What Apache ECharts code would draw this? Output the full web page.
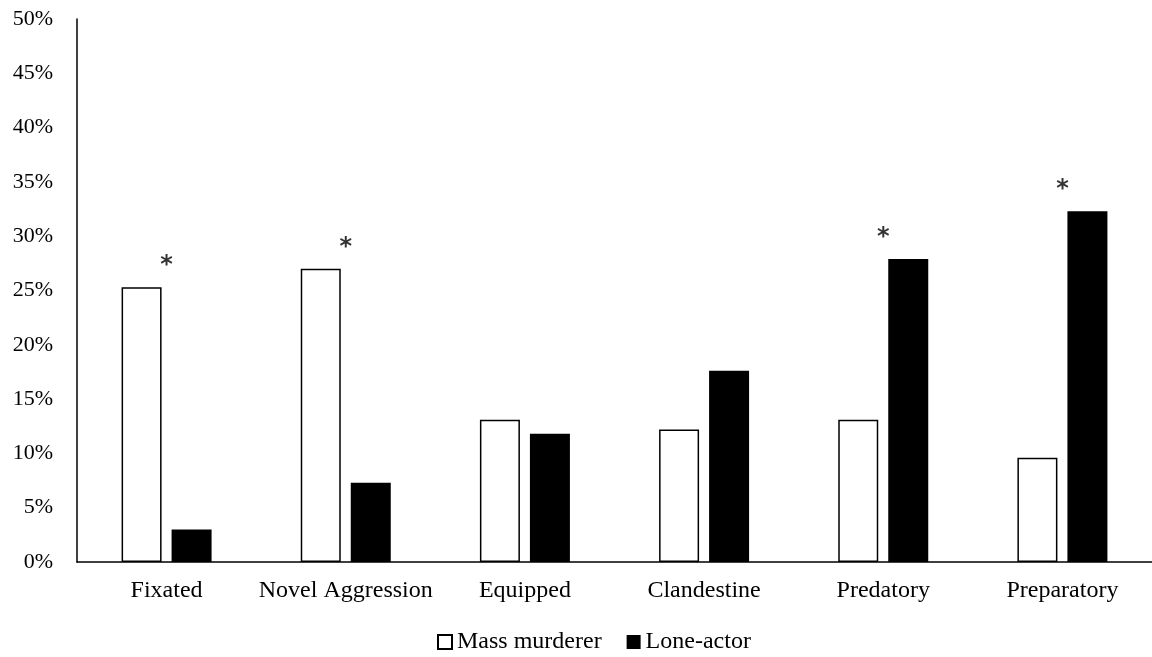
<!DOCTYPE html>
<html>
<head>
<meta charset="utf-8">
<script src="https://cdn.jsdelivr.net/npm/echarts@6/dist/echarts.min.js"></script>
<style>
  html, body { margin: 0; padding: 0; background: #fff; }
  #chart { width: 1152px; height: 657px; }
</style>
</head>
<body>
<div id="chart"></div>
<script>
// data (percent)
var categories = ["Fixated", "Novel Aggression", "Equipped", "Clandestine", "Predatory", "Preparatory"];
var massMurderer = [25.3, 27.0, 13.1, 12.2, 13.1, 9.6];
var loneActor = [3.0, 7.3, 11.8, 17.6, 27.9, 32.3];
// significant differences marked with *
var significant = [true, true, false, false, true, true];
var yTicks = [0, 5, 10, 15, 20, 25, 30, 35, 40, 45, 50];

var font = "Liberation Serif";

// put the star just above the taller bar of the group
var starData = categories.map(function (c, i) {
  return significant[i] ? Math.max(massMurderer[i], loneActor[i]) : null;
});

var chart = echarts.init(document.getElementById("chart"));
chart.setOption({
  animation: false,
  grid: {
    left: 77,
    right: 0,
    top: 19,
    bottom: 95
  },
  legend: {
    bottom: -2,
    left: 432,
    itemWidth: 14,
    itemHeight: 14,
    itemGap: 25,
    textStyle: { fontFamily: font, fontSize: 24, color: "#000" },
    data: [
      { name: "Mass murderer", icon: "rect" },
      { name: "Lone-actor", icon: "rect" }
    ]
  },
  xAxis: {
    type: "category",
    data: categories,
    axisLine: { lineStyle: { color: "#000", width: 1.5 } },
    axisTick: { show: false },
    axisLabel: { interval: 0, fontFamily: font, fontSize: 24, color: "#000", margin: 17 }
  },
  yAxis: {
    type: "value",
    min: yTicks[0],
    max: yTicks[yTicks.length - 1],
    interval: 5,
    splitLine: { show: false },
    axisLine: { show: true, lineStyle: { color: "#000", width: 1.5 } },
    axisTick: { show: false },
    axisLabel: {
      fontFamily: font,
      fontSize: 22,
      color: "#000",
      margin: 24,
      formatter: "{value}%"
    }
  },
  series: [
    {
      name: "Mass murderer",
      type: "bar",
      barWidth: 40,
      barGap: "25%",
      data: massMurderer,
      itemStyle: { color: "#fff", borderColor: "#000", borderWidth: 1.5 }
    },
    {
      name: "Lone-actor",
      type: "bar",
      barWidth: 40,
      data: loneActor,
      itemStyle: { color: "#000", borderColor: "#000", borderWidth: 0 }
    },
    {
      name: "sig",
      type: "scatter",
      symbolSize: 0,
      data: starData,
      silent: true,
      label: {
        show: true,
        position: "top",
        distance: 9,
        formatter: "*",
        fontFamily: "DejaVu Sans",
        fontWeight: "bold",
        fontSize: 24,
        color: "#000"
      }
    }
  ]
});
</script>
</body>
</html>
